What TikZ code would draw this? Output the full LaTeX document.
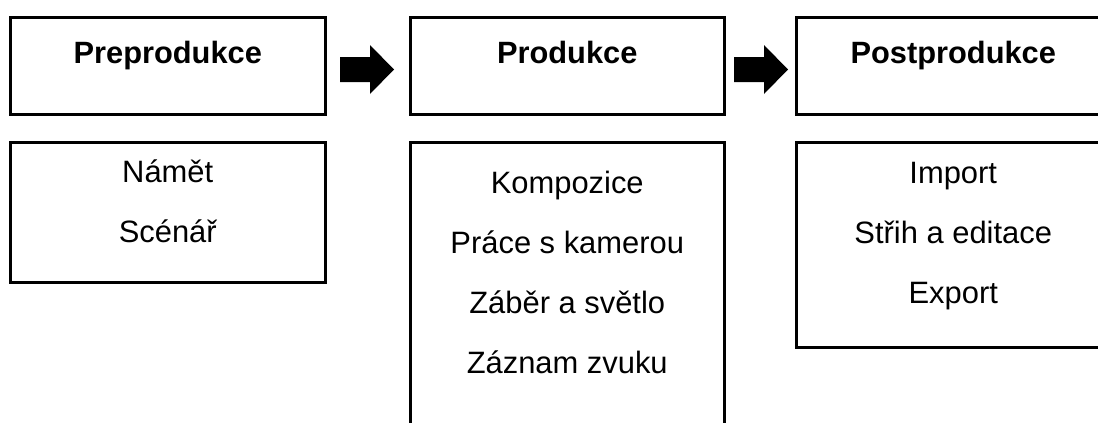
\documentclass[tikz,border=0pt]{standalone}
\usepackage{fontspec}
\setmainfont{Liberation Sans}
\begin{document}
\begin{tikzpicture}[x=1pt,y=-1pt,
  box/.style={draw=black, line width=3pt, rectangle, inner sep=0pt, outer sep=0pt},
  title/.style={anchor=base, font=\fontsize{30.8}{31}\selectfont\bfseries},
  item/.style={anchor=base, font=\fontsize{30.9}{31}\selectfont},
  blockarrow/.style={fill=black, draw=none}]
\useasboundingbox (0,0) rectangle (1098,423);
\clip (0,0) rectangle (1098,423);
% top boxes
\node[box, minimum width=314.5pt, minimum height=97pt] (pre) at (167.75,65.5) {};
\node[box, minimum width=313.5pt, minimum height=97pt] (prod) at (567.25,65.5) {};
\node[box, minimum width=313.5pt, minimum height=97pt] (post) at (953.25,65.5) {};
% lower boxes
\node[box, minimum width=314.5pt, minimum height=140.5pt] (prel) at (167.75,212.25) {};
\node[box, minimum width=313.5pt, minimum height=308pt] (prodl) at (567.25,296) {};
\node[box, minimum width=313.5pt, minimum height=205.5pt] (postl) at (953.25,244.75) {};
% titles
\node[title] (t1) at (167.75,63) {Preprodukce};
\node[title] (t2) at (567.25,63) {Produkce};
\node[title] (t3) at (953.25,63) {Postprodukce};
% items
\node[item] (a1) at (167.75,182) {Námět};
\node[item] (a2) at (167.75,242) {Scénář};
\node[item] (b1) at (567.25,193) {Kompozice};
\node[item] (b2) at (567.25,253) {Práce s kamerou};
\node[item] (b3) at (567.25,313) {Záběr a světlo};
\node[item] (b4) at (567.25,373) {Záznam zvuku};
\node[item] (c1) at (953.25,183) {Import};
\node[item] (c2) at (953.25,243) {Střih a editace};
\node[item] (c3) at (953.25,303) {Export};
% block arrows
\coordinate (ar1) at (340,69.5);
\coordinate (ar2) at (734,69.5);
\foreach \s in {ar1,ar2}{
  \fill[blockarrow] (\s) ++(0,-12.5) -- ++(30,0) -- ++(0,-12) -- ++(24,24.5)
    -- ++(-24,24.5) -- ++(0,-12) -- ++(-30,0) -- cycle;
}
\end{tikzpicture}
\end{document}
